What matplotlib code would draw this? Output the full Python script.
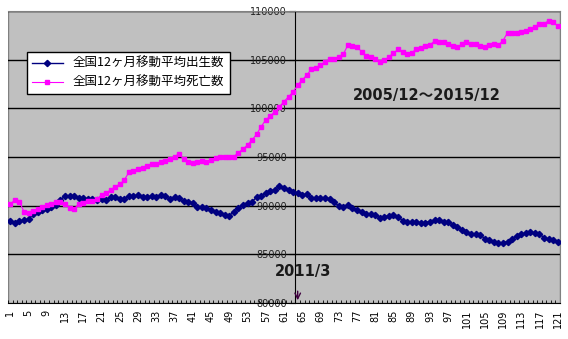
import matplotlib.pyplot as plt
import numpy as np
from matplotlib.patches import Rectangle

plt.rcParams['font.family'] = ['DejaVu Sans', 'Noto Sans CJK JP']

# 12-month moving averages, 2005/12 .. 2015/12 (121 points)
births = [88430, 88260, 88430, 88500, 88600, 89150, 89360, 89560, 89700, 89840,
          90080, 90590, 91000, 91000, 91000, 90830, 90750, 90700, 90700, 90600,
          90660, 90560, 90870, 90870, 90660, 90660, 90970, 90970, 91070, 90930,
          90870, 90970, 90870, 91070, 90970, 90660, 90870, 90770, 90460, 90350,
          90320, 89900, 89870, 89770, 89560, 89390, 89220, 89050, 88980, 89390,
          89740, 90050, 90320, 90420, 90870, 91000, 91280, 91520, 91620, 92030,
          91800, 91650, 91380, 91280, 91100, 91170, 90830, 90760, 90830, 90830,
          90690, 90350, 89970, 89840, 90080, 89740, 89560, 89390, 89120, 89120,
          89050, 88740, 88840, 88980, 89050, 88880, 88460, 88360, 88360, 88290,
          88190, 88260, 88360, 88530, 88530, 88360, 88290, 88020, 87760, 87540,
          87250, 87080, 87070, 87000, 86620, 86500, 86310, 86140, 86200, 86310,
          86590, 86930, 87070, 87170, 87340, 87170, 87070, 86720, 86550, 86480,
          86310]
deaths = [90150, 90590, 90420, 89390, 89290, 89490, 89660, 89900, 90080, 90180,
          90350, 90420, 90180, 89800, 89660, 90180, 90250, 90520, 90520, 90690,
          91100, 91280, 91620, 91960, 92200, 92640, 93430, 93570, 93770, 93910,
          94080, 94290, 94290, 94490, 94630, 94800, 95040, 95320, 94770, 94530,
          94420, 94530, 94630, 94530, 94700, 94870, 94970, 94970, 95040, 95040,
          95450, 95800, 96240, 96750, 97340, 98120, 98810, 99220, 99660, 100170,
          100690, 101200, 101680, 102400, 102910, 103430, 104010, 104110, 104450, 104790,
          105040, 105040, 105310, 105550, 106510, 106440, 106330, 105820, 105410, 105240,
          105040, 104710, 104920, 105310, 105660, 106070, 105760, 105580, 105720, 106070,
          106240, 106440, 106510, 106920, 106780, 106850, 106610, 106410, 106270, 106610,
          106780, 106600, 106580, 106440, 106340, 106510, 106580, 106510, 106950, 107770,
          107770, 107770, 107880, 107980, 108120, 108390, 108670, 108670, 109010, 108840,
          108460]
x = np.arange(1, len(births) + 1)
xlabels = x[::4]
yticks = [80000, 85000, 90000, 95000, 100000, 105000, 110000]

fig = plt.figure(figsize=(5.68, 3.39), dpi=100)
ax = fig.add_axes([8 / 568, 1 - 303 / 339, 552 / 568, 292 / 339])
ax.set_facecolor('#c0c0c0')

for v in yticks[1:]:
    ax.axhline(v, color='black', lw=1, zorder=1)

ax.plot(x, births, color='#000080', marker='D', ms=3.2, lw=1, label='全国12ヶ月移動平均出生数', zorder=3)
ax.plot(x, deaths, color='#ff00ff', marker='s', ms=3.5, lw=0.8, label='全国12ヶ月移動平均死亡数', zorder=3)

ax.set_xlim(0.5, len(x) + 0.5)
ax.set_ylim(80000, 110000)

# vertical axis crosses at category 64 (2011/3)
ax.spines['left'].set_position(('data', 63.5))
ax.spines['left'].set_color('black')
ax.spines['left'].set_zorder(2)
ax.spines['bottom'].set_color('black')
ax.spines['top'].set_color('#808080')
ax.spines['right'].set_color('#808080')
ax.add_patch(Rectangle((0, 0), 1, 1, transform=ax.transAxes, fill=False,
                       edgecolor='#808080', lw=1, zorder=0.5))

ax.set_yticks(yticks)
ax.set_yticklabels([str(v) for v in yticks])
ax.tick_params(axis='y', length=4, direction='out', pad=2, labelsize=7, labelcolor='#222222')

ax.set_xticks(xlabels)
ax.set_xticklabels([str(v) for v in xlabels], rotation=90)
ax.set_xticks(np.arange(0.5, len(x) + 1), minor=True)
ax.tick_params(axis='x', which='major', length=0, pad=5, labelsize=7)
ax.tick_params(axis='x', which='minor', length=2.5, direction='in')

leg = ax.legend(loc='upper left', bbox_to_anchor=(0.034, 0.86), borderaxespad=0,
                fancybox=False, framealpha=1, edgecolor='black',
                prop={'family': ['Noto Sans CJK JP'], 'size': 9},
                handlelength=2.5, borderpad=0.4, labelspacing=0.5)
leg.get_frame().set_linewidth(1)

ax.text(92.3, 101300, '2005/12～2015/12', fontsize=10.5, fontweight='bold',
        color='#1a1a1a', ha='center', va='center', zorder=4)
ax.text(65.2, 83230, '2011/3', fontsize=10.5, fontweight='bold',
        color='#1a1a1a', ha='center', va='center', zorder=4)
ax.annotate('', xy=(64, 80000), xytext=(64, 81500),
            arrowprops=dict(arrowstyle='->', color='#400040', lw=1), zorder=4)

fig.savefig('out.png', dpi=100)
